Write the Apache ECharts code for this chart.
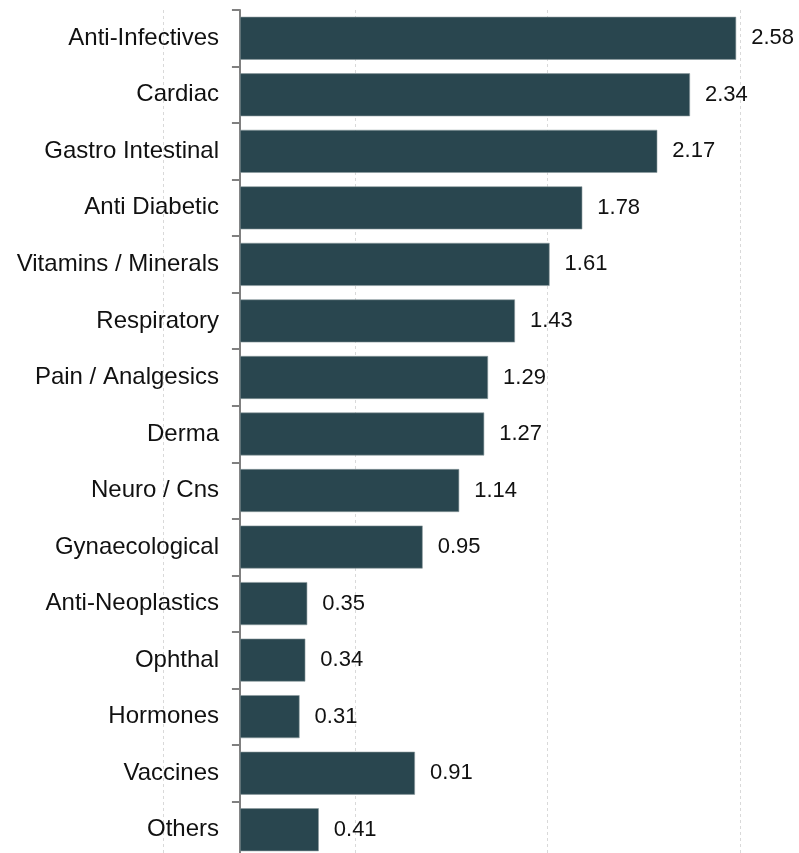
<!DOCTYPE html>
<html>
<head>
<meta charset="utf-8">
<script src="https://cdn.jsdelivr.net/npm/echarts@6/dist/echarts.min.js"></script>
<style>
html,body{margin:0;padding:0;background:#fff;}
#chart{width:799px;height:853px;}
</style>
</head>
<body>
<div id="chart"></div>
<script>
var categories = ["Anti-Infectives","Cardiac","Gastro Intestinal","Anti Diabetic","Vitamins / Minerals","Respiratory","Pain / Analgesics","Derma","Neuro / Cns","Gynaecological","Anti-Neoplastics","Ophthal","Hormones","Vaccines","Others"];
var values = [2.58,2.34,2.17,1.78,1.61,1.43,1.29,1.27,1.14,0.95,0.35,0.34,0.31,0.91,0.41];

var chart = echarts.init(document.getElementById('chart'), null, {renderer:'canvas'});
chart.setOption({
  animation:false,
  backgroundColor:'#ffffff',
  grid:{left:163, right:59, top:10, bottom:-5, containLabel:false, outerBoundsMode:'none'},
  xAxis:{
    type:'value', min:-0.4, max:2.6, interval:1,
    axisLine:{show:false}, axisTick:{show:false}, axisLabel:{show:false},
    splitLine:{show:true, lineStyle:{color:'#d9d9d9', type:[3,3], width:1}}
  },
  yAxis:{
    type:'category', inverse:true, data:categories,
    axisLine:{show:true, onZero:true, lineStyle:{color:'#808080', width:2}},
    axisTick:{show:true, length:8, lineStyle:{color:'#808080', width:2}},
    axisLabel:{color:'#111', fontSize:24, fontFamily:'Liberation Sans, Arial, sans-serif', margin:-56},
    splitLine:{show:false}
  },
  series:[{
    type:'bar', data:values, barCategoryGap:'24%',
    itemStyle:{color:'#29464f', borderColor:'#8b9a9e', borderWidth:0.6},
    label:{show:true, position:'right', distance:15, color:'#111', fontSize:22, fontFamily:'Liberation Sans, Arial, sans-serif',
      formatter:function(p){return p.value.toFixed(2);}}
  }]
});
</script>
</body>
</html>
